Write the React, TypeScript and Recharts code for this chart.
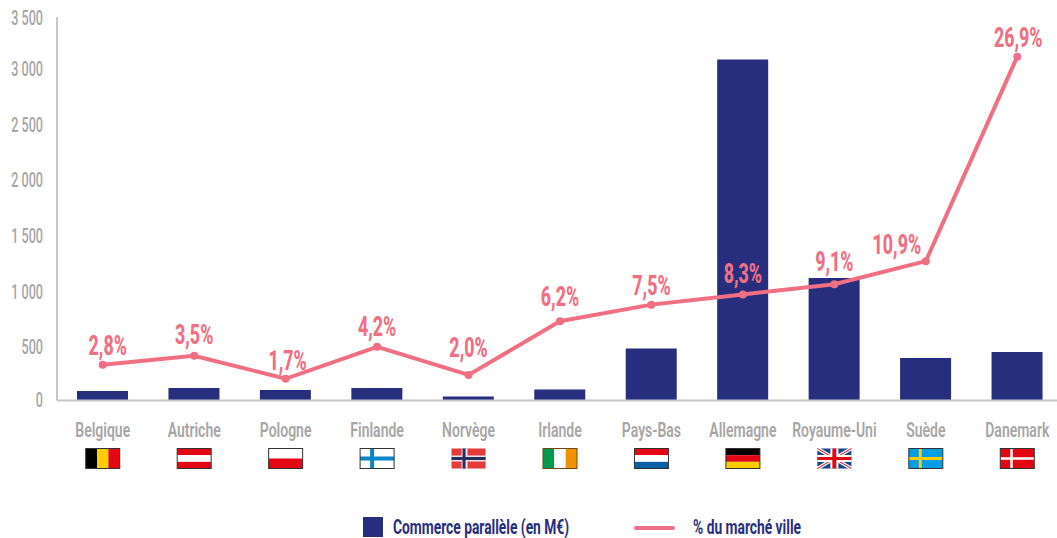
import { Bar, ComposedChart, LabelList, Line, XAxis, YAxis } from "recharts";

const countries = ["Belgique", "Autriche", "Pologne", "Finlande", "Norvège", "Irlande", "Pays-Bas", "Allemagne", "Royaume-Uni", "Suède", "Danemark"];
const commerce = [87, 114, 96, 114, 37, 100, 475, 3112, 1118, 388, 443];
const marketShare = [2.8, 3.5, 1.7, 4.2, 2.0, 6.2, 7.5, 8.3, 9.1, 10.9, 26.9];
const yTicks = [0, 500, 1000, 1500, 2000, 2500, 3000, 3500];
const yTickLabels = ["0", "500", "1 000", "1 500", "2 000", "2 500", "3 000", "3 500"];

// the source's tick labels are not evenly spaced
const yTickDy = [-1, 1, 1, 0, -1, -2, -3, 1];
// label nudges from the default spot above each point
const labelDx = [5, 0, 2, 0, 0, 0, 0, 0, 0, -29, 1];
const labelDy = [0, -2, 1.5, -1, -7.5, -5, 0, -1, -3, 3, 0];

const chartData = countries.map((name, i) => ({ name, commerce: commerce[i], share: marketShare[i] }));

const NAVY = "#282e7e";
const PINK = "#f16f82";
const GREY = "#a6a6a6";
const AXIS = "#c6c6c6";
const FONT = "Roboto, sans-serif";

function Flag({ name }: { name: string }) {
  const w = 34;
  const h = 20;
  const stripesV = (a: string, b: string, c: string) => (
    <>
      <rect width={w / 3} height={h} fill={a} />
      <rect x={w / 3} width={w / 3} height={h} fill={b} />
      <rect x={(2 * w) / 3} width={w / 3} height={h} fill={c} />
    </>
  );
  const stripesH = (a: string, b: string, c: string) => (
    <>
      <rect width={w} height={h / 3} fill={a} />
      <rect y={h / 3} width={w} height={h / 3} fill={b} />
      <rect y={(2 * h) / 3} width={w} height={h / 3} fill={c} />
    </>
  );
  const cross = (bg: string, fg: string, t: number) => (
    <>
      <rect width={w} height={h} fill={bg} />
      <rect x={10} width={t} height={h} fill={fg} />
      <rect y={(h - t) / 2} width={w} height={t} fill={fg} />
    </>
  );
  let body = null;
  let border = "#333333";
  if (name === "Belgique") body = stripesV("#000000", "#ffcc00", "#e30613");
  if (name === "Autriche") body = stripesH("#e30613", "#ffffff", "#e30613");
  if (name === "Pologne") body = (<><rect width={w} height={h / 2} fill="#ffffff" /><rect y={h / 2} width={w} height={h / 2} fill="#e30613" /></>);
  if (name === "Finlande") body = cross("#ffffff", "#0a85c9", 4);
  if (name === "Norvège") {
    border = "none";
    body = (
      <>
        {cross("#e63b3b", "#e6e6f0", 6)}
        <rect x={11} width={3} height={h} fill="#282e5e" />
        <rect y={8.5} width={w} height={3} fill="#282e5e" />
      </>
    );
  }
  if (name === "Irlande") { border = "#6b4a10"; body = stripesV("#009a4e", "#ffffff", "#f39200"); }
  if (name === "Pays-Bas") body = stripesH("#e30613", "#ffffff", "#0b5ea8");
  if (name === "Allemagne") body = stripesH("#000000", "#e30613", "#ffcc00");
  if (name === "Royaume-Uni") {
    border = "none";
    body = (
      <>
        <rect width={w} height={h} fill="#12488a" />
        <line x1={0} y1={0} x2={w} y2={h} stroke="#ffffff" strokeWidth={3.5} />
        <line x1={w} y1={0} x2={0} y2={h} stroke="#ffffff" strokeWidth={3.5} />
        <line x1={0} y1={0} x2={w} y2={h} stroke="#e30613" strokeWidth={1} />
        <line x1={w} y1={0} x2={0} y2={h} stroke="#e30613" strokeWidth={1} />
        <rect x={13} width={8} height={h} fill="#ffffff" />
        <rect y={6.5} width={w} height={7} fill="#ffffff" />
        <rect x={15} width={4} height={h} fill="#e30613" />
        <rect y={8.5} width={w} height={3} fill="#e30613" />
      </>
    );
  }
  if (name === "Suède") body = cross("#009fe3", "#ffcc00", 3);
  if (name === "Danemark") body = cross("#e30613", "#ffffff", 2.5);
  return (
    <g transform={`translate(${-w / 2},0)`}>
      {body}
      {border !== "none" && <rect width={w} height={h} fill="none" stroke={border} strokeWidth={1} />}
    </g>
  );
}

function CountryTick({ x, y, payload }: any) {
  return (
    <g transform={`translate(${x},${y})`}>
      <text
        transform="scale(0.7,1)"
        textAnchor="middle"
        y={29}
        fontFamily={FONT}
        fontWeight={600}
        fontSize={20}
        fill={GREY}
      >
        {payload.value}
      </text>
      <g transform="translate(0,40)">
        <Flag name={payload.value} />
      </g>
    </g>
  );
}

function ValueTick({ x, y, payload }: any) {
  const i = yTicks.indexOf(payload.value);
  return (
    <text
      transform={`translate(${x},${y + 7 + yTickDy[i]}) scale(0.63,1)`}
      textAnchor="end"
      fontFamily={FONT}
      fontWeight={500}
      fontSize={20}
      fill={GREY}
    >
      {yTickLabels[i]}
    </text>
  );
}

function ShareLabel({ x, y, index }: any) {
  return (
    <text
      transform={`translate(${x + labelDx[index]},${y - 10 + labelDy[index]}) scale(0.66,1)`}
      textAnchor="middle"
      fontFamily={FONT}
      fontWeight={800}
      fontSize={27}
      fill={PINK}
    >
      {marketShare[index].toFixed(1).replace(".", ",")}%
    </text>
  );
}

function ChartLegend() {
  const label = {
    position: "absolute" as const,
    top: 517,
    lineHeight: "20px",
    color: NAVY,
    fontFamily: FONT,
    fontWeight: 700,
    fontSize: 20,
    whiteSpace: "nowrap" as const,
    transformOrigin: "left center",
    transform: "scaleX(0.69)",
  };
  return (
    <>
      <div style={{ position: "absolute", left: 363, top: 517, width: 20, height: 20, background: NAVY }} />
      <div style={{ ...label, left: 393 }}>Commerce parallèle (en M€)</div>
      <div style={{ position: "absolute", left: 634, top: 526, width: 41, height: 4, borderRadius: 2, background: PINK }} />
      <div style={{ ...label, left: 693 }}>% du marché ville</div>
    </>
  );
}

export default function App() {
  return (
    <div style={{ position: "absolute", left: 0, top: 0, width: 1057, height: 538, overflow: "hidden", background: "#fff" }}>
      <ComposedChart
        width={1063}
        height={538}
        data={chartData}
        margin={{ top: 17, right: 0, bottom: 0, left: 0 }}
      >
        <XAxis
          dataKey="name"
          height={137.5}
          interval={0}
          tick={<CountryTick />}
          tickLine={false}
          axisLine={{ stroke: AXIS, strokeWidth: 2 }}
        />
        <YAxis
          yAxisId="left"
          width={57}
          domain={[0, 3500]}
          ticks={yTicks}
          interval={0}
          tickLine={false}
          axisLine={{ stroke: AXIS, strokeWidth: 2 }}
          tick={<ValueTick />}
          tickMargin={8}
        />
        <YAxis yAxisId="right" orientation="right" width={0} hide domain={[0, 30]} />
        <Bar yAxisId="left" dataKey="commerce" fill={NAVY} barSize={51} isAnimationActive={false} />
        <Line
          yAxisId="right"
          dataKey="share"
          type="linear"
          stroke={PINK}
          strokeWidth={4}
          dot={{ r: 4, fill: PINK, stroke: PINK, strokeWidth: 0 }}
          isAnimationActive={false}
        >
          <LabelList dataKey="share" content={<ShareLabel />} />
        </Line>
      </ComposedChart>
      <ChartLegend />
    </div>
  );
}
